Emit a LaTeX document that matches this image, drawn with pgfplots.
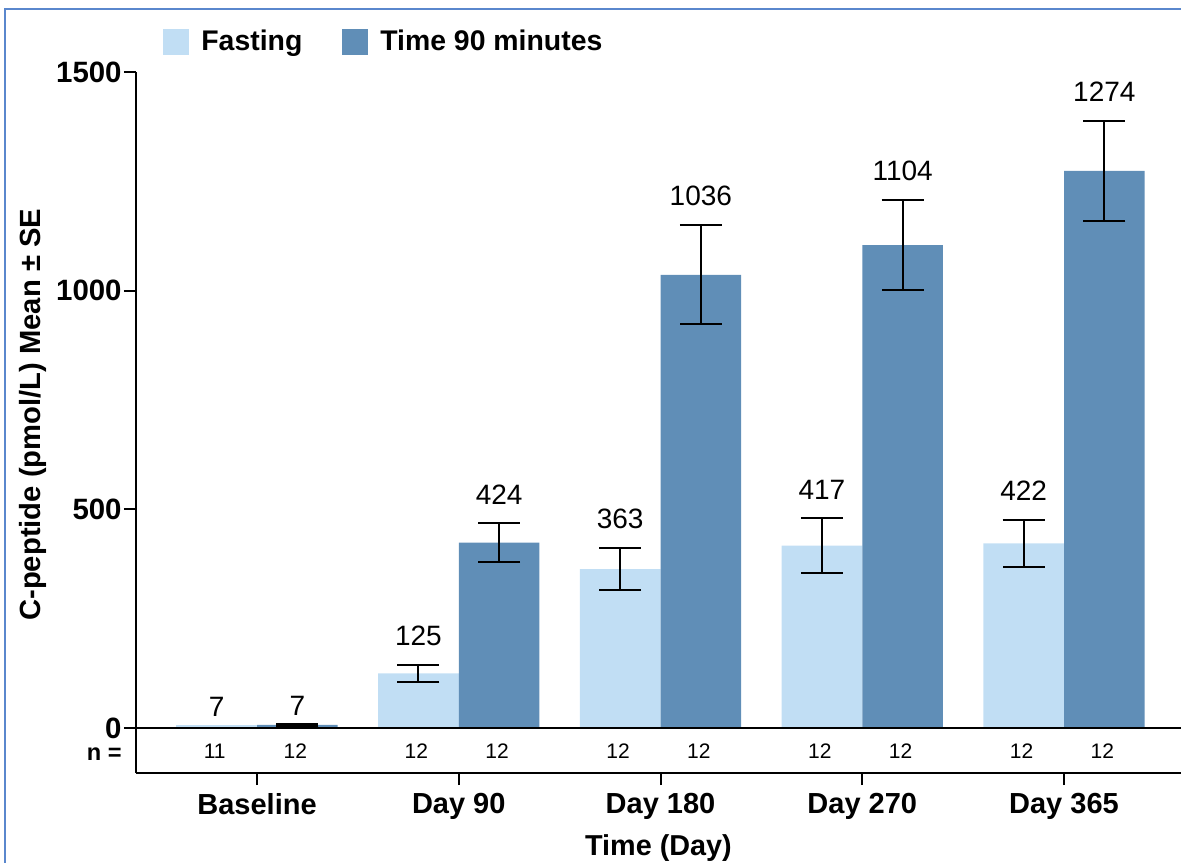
\documentclass[border=0pt]{standalone}
\usepackage{pgfplots}
\pgfplotsset{compat=1.18}
\usepackage{fontspec}
\setmainfont{Liberation Sans}
\definecolor{fastc}{RGB}{193,222,244}
\definecolor{darkc}{RGB}{96,142,183}
\definecolor{bordc}{RGB}{90,135,205}
\begin{document}
\begin{tikzpicture}
\begin{axis}[
  at={(68pt,44.5pt)}, anchor=south west,
  width=522.5pt, height=350.5pt, scale only axis,
  xmin=-0.6, xmax=4.58,
  ymin=-103, ymax=1500,
  clip=false,
  axis x line*=bottom, axis y line*=left,
  axis line style={line width=1pt, black},
  ytick={0,500,1000,1500},
  xtick={0,1,2,3,4},
  xticklabels={Baseline,Day 90,Day 180,Day 270,Day 365},
  tick align=outside,
  major tick length=6pt,
  tick style={line width=1pt, black},
  /pgf/number format/assume math mode=true,
  /pgf/number format/1000 sep={},
  yticklabel style={font=\fontsize{14.7}{16}\selectfont\bfseries, inner sep=1pt},
  xticklabel style={font=\fontsize{14.5}{16}\selectfont\bfseries, inner sep=2pt, yshift=-2pt},
  xlabel={Time (Day)},
  xlabel style={font=\fontsize{14.4}{16}\selectfont\bfseries, at={(axis description cs:0.5,0)}, anchor=center, yshift=-37.5pt},
  ylabel={C-peptide (pmol/L) Mean ± SE},
  ylabel style={font=\fontsize{14.6}{16}\selectfont\bfseries, at={(axis description cs:-0.0985,0.511)}, anchor=center},
  legend columns=2,
  legend style={draw=none, fill=none, at={(axis description cs:0.0258,1.043)}, anchor=west,
     font=\fontsize{14.2}{16}\selectfont\bfseries, inner sep=0pt,
     /tikz/every odd column/.append style={column sep=4pt},
     /tikz/every even column/.append style={column sep=18pt}},
  legend cell align=left,
]
% bars
\addplot[ybar, bar width=0.4, bar shift=0pt, fill=fastc, draw=none, area legend,
  legend image code/.code={\fill[fastc] (0pt,-6.5pt) rectangle (13pt,6.5pt);},
  error bars/.cd, y dir=both, y explicit, error mark=|,
  error bar style={line width=1pt, black},
  error mark options={line width=1pt, black, mark size=10.5pt}]
  coordinates {(0.8,125) +- (0,20) (1.8,363) +- (0,48) (2.8,417) +- (0,62) (3.8,422) +- (0,54)};
\addlegendentry{Fasting}
\addplot[ybar, bar width=0.4, bar shift=0pt, fill=darkc, draw=none, area legend,
  legend image code/.code={\fill[darkc] (0pt,-6.5pt) rectangle (13pt,6.5pt);},
  error bars/.cd, y dir=both, y explicit, error mark=|,
  error bar style={line width=1pt, black},
  error mark options={line width=1pt, black, mark size=10.5pt}]
  coordinates {(0.2,7) +- (0,3) (1.2,424) +- (0,44) (2.2,1036) +- (0,113) (3.2,1104) +- (0,103) (4.2,1274) +- (0,115)};
\addlegendentry{Time 90 minutes}
\addplot[ybar, bar width=0.4, bar shift=0pt, fill=fastc, draw=none, forget plot]
  coordinates {(-0.2,7)};
% zero line
\draw[line width=1.2pt, black] (axis cs:-0.6,0) -- (axis cs:4.58,0);
% value labels
\addplot[only marks, mark=none, forget plot,
  nodes near coords, point meta=explicit symbolic,
  every node near coord/.style={anchor=south, inner sep=0pt, font=\fontsize{14}{16}\selectfont}]
  coordinates {
   (-0.2,26) [7] (0.2,28) [7]
   (0.8,188) [125] (1.2,511) [424]
   (1.8,454) [363] (2.2,1193) [1036]
   (2.8,522) [417] (3.2,1250) [1104]
   (3.8,519) [422] (4.2,1432) [1274]
  };
% n labels
\addplot[only marks, mark=none, forget plot,
  nodes near coords, point meta=explicit symbolic,
  every node near coord/.style={anchor=center, inner sep=0pt, font=\fontsize{10.5}{12}\selectfont}]
  coordinates {
   (-0.21,-54) [11] (0.19,-54) [12]
   (0.79,-54) [12] (1.19,-54) [12]
   (1.79,-54) [12] (2.19,-54) [12]
   (2.79,-54) [12] (3.19,-54) [12]
   (3.79,-54) [12] (4.19,-54) [12]
  };
\node[anchor=east, inner sep=0pt, font=\fontsize{11.8}{13}\selectfont\bfseries] at (axis cs:-0.6,-59) [xshift=-7pt] {n =};
\end{axis}
\pgfresetboundingbox
\useasboundingbox (0,0) rectangle (590.5pt,431pt);
\draw[bordc, line width=1pt] (2.5pt,-2pt) -- (2.5pt,426.5pt) -- (593pt,426.5pt);
\end{tikzpicture}
\end{document}
